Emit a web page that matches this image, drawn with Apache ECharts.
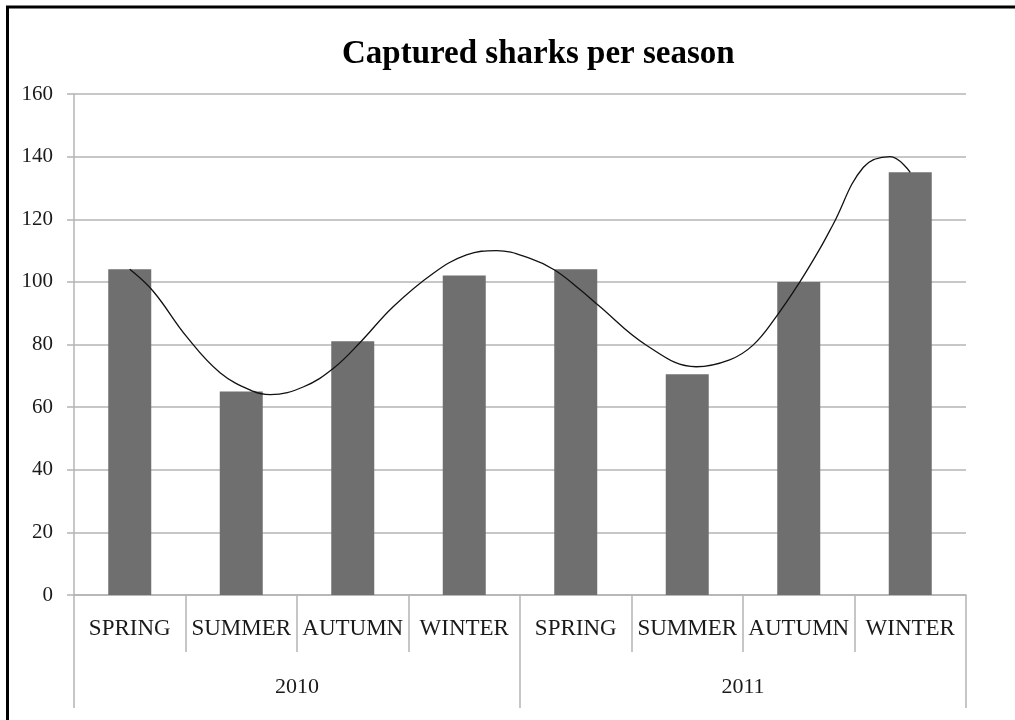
<!DOCTYPE html>
<html>
<head>
<meta charset="utf-8">
<script src="https://cdn.jsdelivr.net/npm/echarts@6/dist/echarts.min.js"></script>
<style>
  html, body { margin: 0; padding: 0; background: #ffffff; }
  #chart { width: 1015px; height: 720px; }
</style>
</head>
<body>
<div id="chart"></div>
<script>
// Seasons for each year, and the years that group them
const seasons = ['SPRING', 'SUMMER', 'AUTUMN', 'WINTER', 'SPRING', 'SUMMER', 'AUTUMN', 'WINTER'];
const years = ['2010', '2011'];

// Captured sharks per season (2010 then 2011)
const captured = [104, 65, 81, 102, 104, 70.5, 100, 135];

// Smoothed trend curve: [position along the season axis, value]
const trendPoints = [
  [0.50, 104], [0.71, 97], [1.01, 82.5], [1.31, 71], [1.61, 65], [1.76, 64],
  [2.06, 66.5], [2.33, 72.5], [2.57, 80.8], [2.86, 92], [3.22, 102.7],
  [3.52, 108.6], [3.79, 110], [4.09, 107.5], [4.31, 103.8], [4.54, 97.5],
  [4.70, 92.6], [5.14, 79.6], [5.58, 72.9], [5.88, 75.1], [6.09, 79.8],
  [6.30, 89], [6.51, 100], [6.69, 110.6], [6.81, 118.5], [7.08, 136.6],
  [7.32, 140], [7.50, 135]
];

// Value axis ticks
const yTicks = { min: 0, max: 160, interval: 20 };

const serif = '"Liberation Serif", "Times New Roman", serif';
const gridGray = '#b4b4b4';
const textColor = '#1a1a1a';

const chart = echarts.init(document.getElementById('chart'), null, { renderer: 'canvas' });

chart.setOption({
  backgroundColor: '#ffffff',
  animation: false,
  title: {
    text: 'Captured sharks per season',
    left: 337,
    top: 33,
    textStyle: { fontFamily: serif, fontWeight: 'bold', fontSize: 33, color: '#000000' }
  },
  grid: { left: 74, right: 49, top: 94, bottom: 125, containLabel: false },
  xAxis: [
    {
      type: 'category',
      data: seasons,
      boundaryGap: true,
      axisLine: { show: true, lineStyle: { color: gridGray, width: 1.5 } },
      axisTick: { show: true, interval: 0, length: 57, lineStyle: { color: gridGray, width: 1.5 } },
      axisLabel: { interval: 0, margin: 22, fontFamily: serif, fontSize: 23, color: textColor },
      splitLine: { show: false }
    },
    {
      type: 'category',
      data: years,
      position: 'bottom',
      boundaryGap: true,
      axisLine: { show: false },
      axisTick: { show: true, interval: 0, length: 113, lineStyle: { color: gridGray, width: 1.5 } },
      axisLabel: { interval: 0, margin: 81, fontFamily: serif, fontSize: 22, color: textColor },
      splitLine: { show: false }
    },
    {
      type: 'value',
      min: 0,
      max: 8,
      show: false
    }
  ],
  yAxis: {
    type: 'value',
    min: yTicks.min,
    max: yTicks.max,
    interval: yTicks.interval,
    axisLine: { show: true, lineStyle: { color: gridGray, width: 1.5 } },
    axisTick: { show: true, length: 7, lineStyle: { color: gridGray, width: 1.5 } },
    axisLabel: { margin: 21, fontFamily: serif, fontSize: 21, color: textColor },
    splitLine: { show: true, lineStyle: { color: gridGray, width: 1.5 } }
  },
  series: [
    {
      type: 'bar',
      xAxisIndex: 0,
      data: captured,
      barWidth: 43,
      itemStyle: { color: '#6f6f6f' },
      z: 2
    },
    {
      type: 'line',
      xAxisIndex: 2,
      data: trendPoints,
      smooth: 0.4,
      symbol: 'none',
      lineStyle: { color: '#111111', width: 1.3 },
      z: 3
    }
  ],
  graphic: [
    {
      type: 'polyline',
      shape: { points: [[7.5, 720], [7.5, 7], [1015, 7]] },
      style: { stroke: '#000000', lineWidth: 3, fill: null },
      silent: true
    }
  ]
});
</script>
</body>
</html>
